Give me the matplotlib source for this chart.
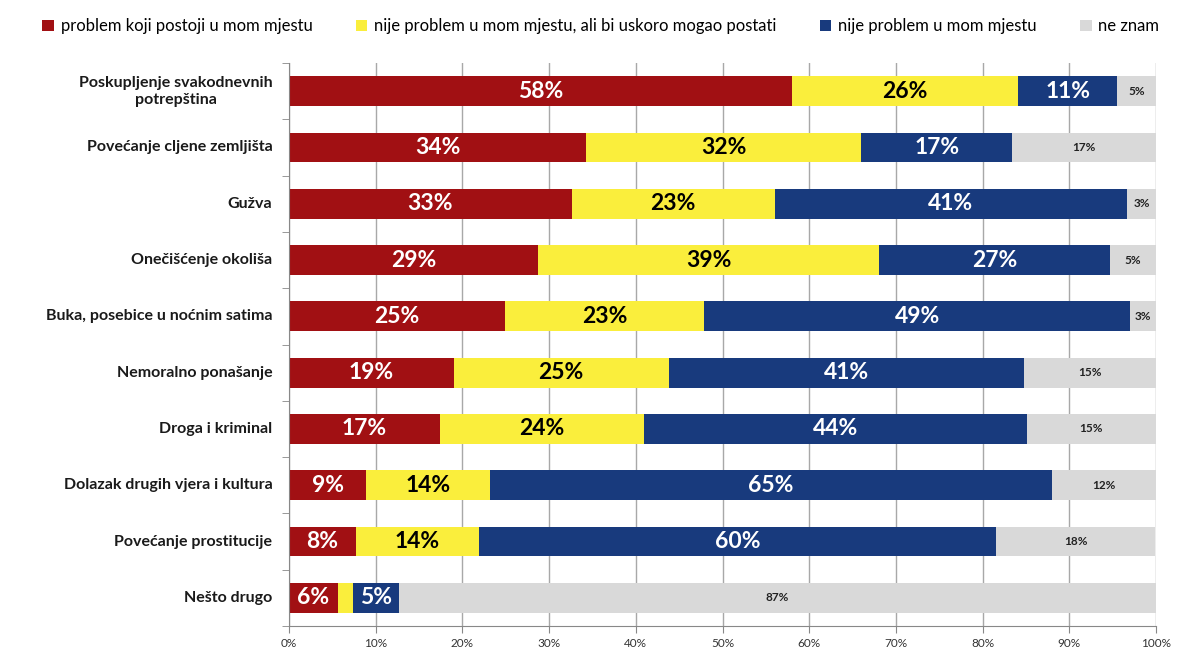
import numpy as np
import matplotlib.pyplot as plt
from matplotlib.transforms import blended_transform_factory, offset_copy

plt.rcParams['font.family'] = ['Lato', 'DejaVu Sans']

categories = ["Poskupljenje svakodnevnih\npotrepština", "Povećanje cljene zemljišta", "Gužva",
              "Onečišćenje okoliša", "Buka, posebice u noćnim satima", "Nemoralno ponašanje",
              "Droga i kriminal", "Dolazak drugih vjera i kultura", "Povećanje prostitucije",
              "Nešto drugo"]
postoji = [58.0, 34.3, 32.6, 28.7, 24.9, 19.0, 17.4, 8.9, 7.7, 5.6]
uskoro = [26.1, 31.7, 23.4, 39.4, 23.0, 24.8, 23.6, 14.3, 14.2, 1.8]
nije = [11.4, 17.4, 40.7, 26.6, 49.1, 41.0, 44.1, 64.8, 59.7, 5.3]
ne_znam = [4.6, 16.6, 3.3, 5.3, 3.0, 15.2, 14.9, 12.0, 18.3, 87.3]

series_names = ["problem koji postoji u mom mjestu",
                "nije problem u mom mjestu, ali bi uskoro mogao postati",
                "nije problem u mom mjestu", "ne znam"]
colors = ["#A11013", "#FAEE3C", "#183A7D", "#D9D9D9"]
txt_colors = ["white", "black", "white", "#222222"]
txt_sizes = [16.5, 16.5, 16.5, 8.5]

fig = plt.figure(figsize=(11.78, 6.5), dpi=100)
ax = fig.add_axes([289 / 1178, 1 - 626 / 650, 867 / 1178, 563 / 650])

y = np.arange(len(categories))
left = np.zeros(len(categories))
for vals, name, col, tc, ts in zip([postoji, uskoro, nije, ne_znam], series_names, colors, txt_colors, txt_sizes):
    vals = np.array(vals)
    ax.barh(y, vals, left=left, height=0.53, color=col, label=name, zorder=2)
    for yi, v, l in zip(y, vals, left):
        if v >= 3:
            ax.text(l + v / 2, yi, f"{v:.0f}%", ha="center", va="center", color=tc,
                    fontsize=ts, fontweight="bold", zorder=3)
    left += vals

ax.set_xlim(0, 100)
ax.set_ylim(len(categories) - 0.5, -0.5)
ax.set_xticks(np.arange(0, 101, 10))
ax.set_xticklabels([f"{t}%" for t in range(0, 101, 10)], fontsize=8.5, color="#333333")

# category labels drawn by hand so the two-line one is centred
ax.set_yticks([])
trans = offset_copy(blended_transform_factory(ax.transAxes, ax.transData), fig=fig, x=-12, units="points")
for yi, cat in zip(y, categories):
    ax.text(0, yi, cat, transform=trans, ha="right", va="center", multialignment="center",
            fontsize=11.5, fontweight="bold", color="#1a1a1a", linespacing=1.25)

ax.set_yticks(np.arange(-0.5, len(categories), 1), minor=True)
ax.tick_params(axis="y", which="minor", length=5, color="#888888")
ax.tick_params(axis="x", length=5, color="#888888")
ax.grid(axis="x", color="#A8A8A8", linewidth=1, zorder=0)
ax.spines["top"].set_visible(False)
ax.spines["right"].set_visible(False)
ax.spines["left"].set_color("#888888")
ax.spines["bottom"].set_color("#888888")

fig.legend(loc="upper center", bbox_to_anchor=(0.51, 0.995), ncol=4, frameon=False,
           fontsize=12, handlelength=0.7, handleheight=0.7, handletextpad=0.4, columnspacing=2.6)

fig.savefig("out.png", dpi=100)
